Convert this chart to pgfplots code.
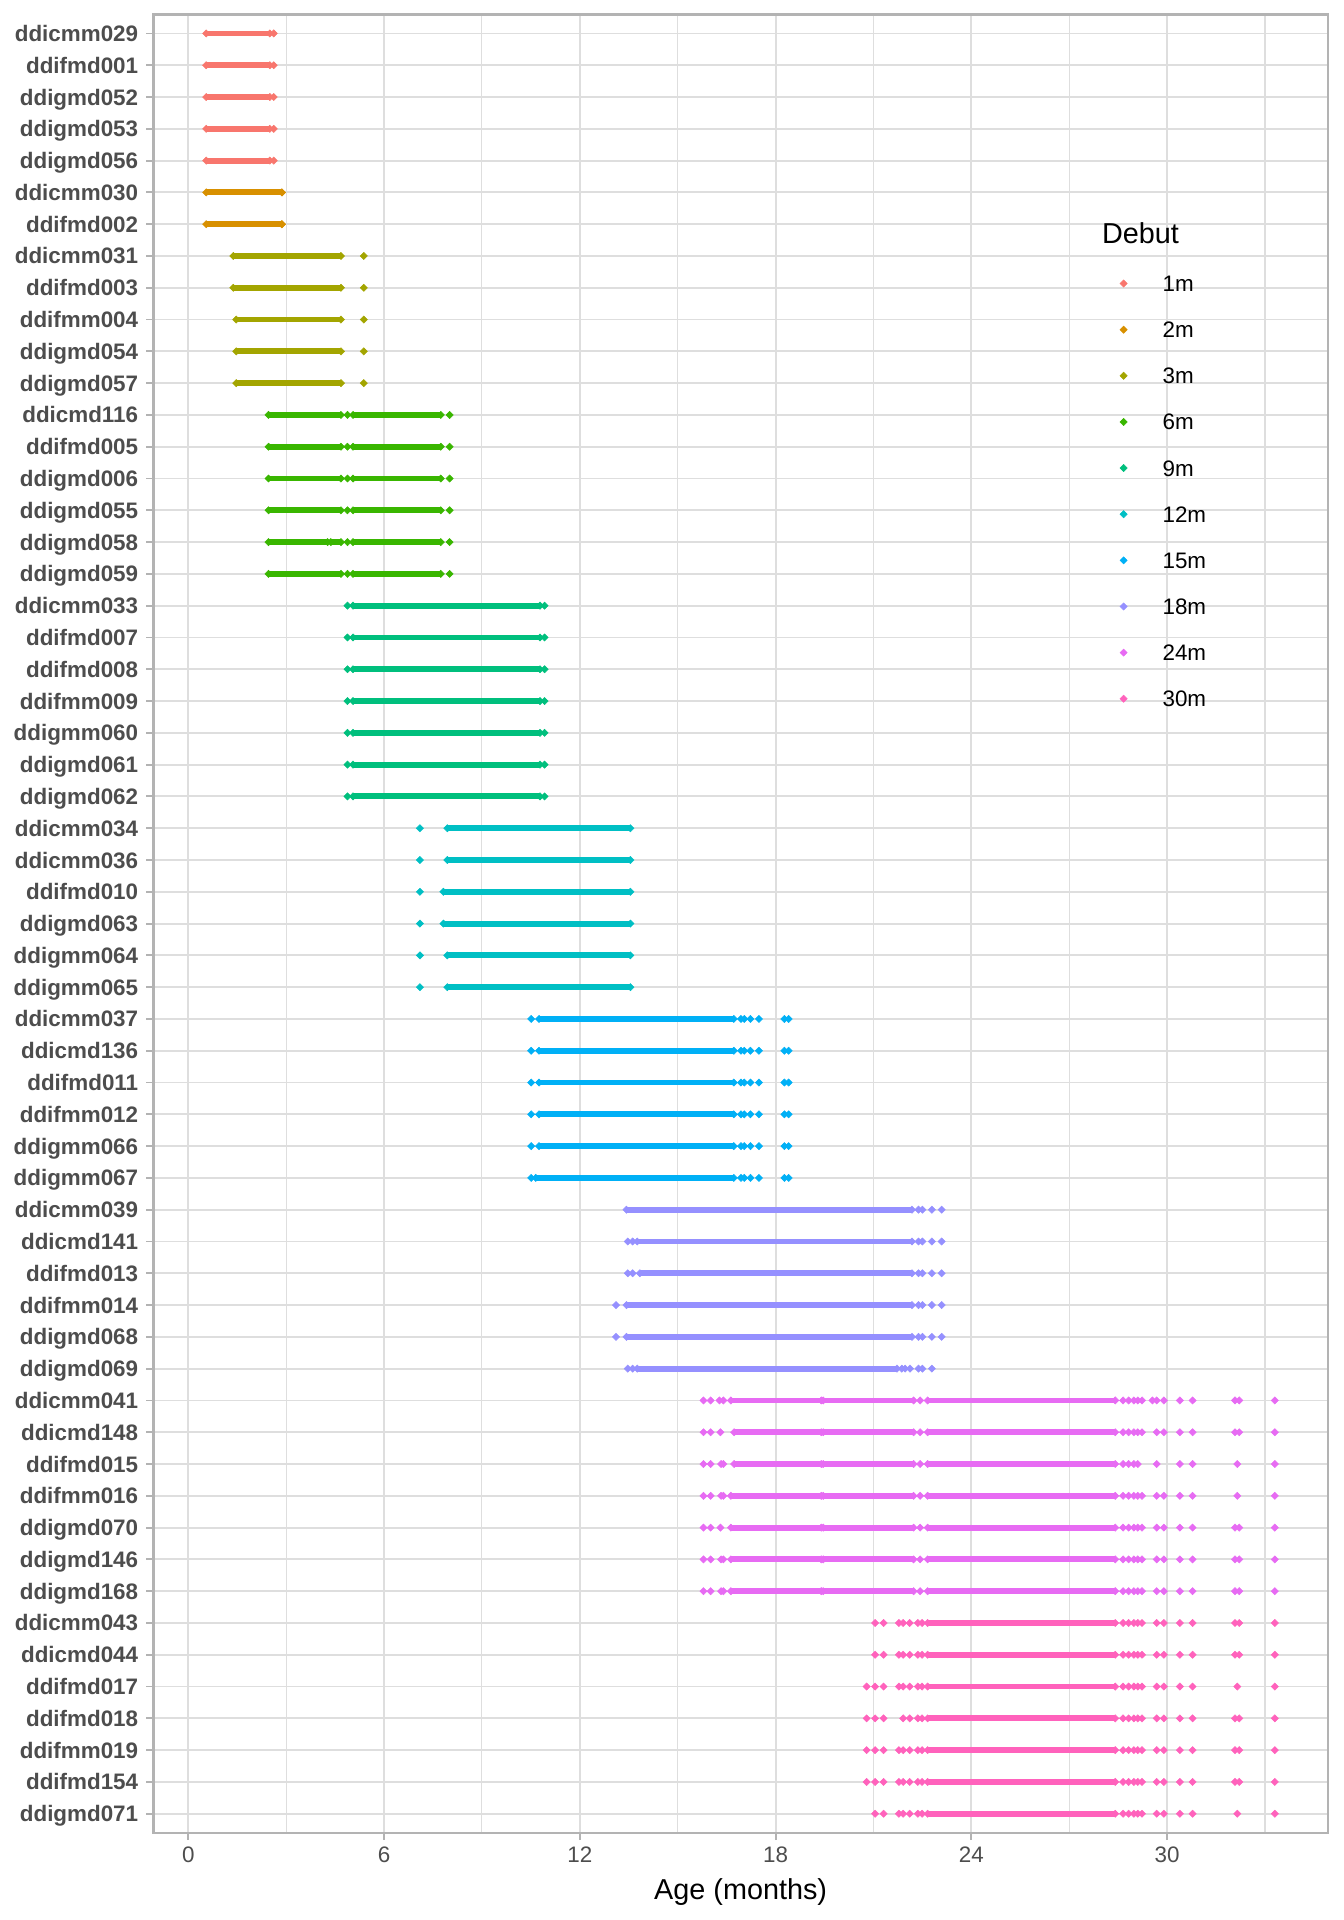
\documentclass[border=0pt]{standalone}
\usepackage{pgfplots}
\pgfplotsset{compat=1.18}
\usepackage{fontspec}
\setmainfont{Liberation Sans}
\definecolor{c1}{HTML}{F8766D}
\definecolor{c2}{HTML}{D89000}
\definecolor{c3}{HTML}{A3A500}
\definecolor{c4}{HTML}{39B600}
\definecolor{c5}{HTML}{00BF7D}
\definecolor{c6}{HTML}{00BFC4}
\definecolor{c7}{HTML}{00B0F6}
\definecolor{c8}{HTML}{9590FF}
\definecolor{c9}{HTML}{E76BF3}
\definecolor{c10}{HTML}{FF62BC}
\definecolor{gridc}{HTML}{DEDEDE}
\definecolor{borderc}{HTML}{B3B3B3}
\definecolor{txt}{HTML}{4D4D4D}
\pgfplotsset{
  pts/.style={only marks, mark=square*, mark size=0.95pt, mark options={rotate=45, line width=0.2pt}},
  runs/.style={forget plot, line width=2.2pt, mark=square*, mark size=0.95pt, mark options={rotate=45, line width=0.2pt}},
}
\begin{document}
\begin{tikzpicture}
\begin{axis}[name=ax, scale only axis, width=440.5pt, height=681.9pt,
  xmin=-1.07, xmax=34.93, ymin=-0.6, ymax=56.6,
  xtick={0,6,...,30}, minor xtick={3,9,...,33},
  ytick={0,...,56},
  yticklabels={ddigmd071,ddifmd154,ddifmm019,ddifmd018,ddifmd017,ddicmd044,ddicmm043,
    ddigmd168,ddigmd146,ddigmd070,ddifmm016,ddifmd015,ddicmd148,ddicmm041,
    ddigmd069,ddigmd068,ddifmm014,ddifmd013,ddicmd141,ddicmm039,
    ddigmm067,ddigmm066,ddifmm012,ddifmd011,ddicmd136,ddicmm037,
    ddigmm065,ddigmm064,ddigmd063,ddifmd010,ddicmm036,ddicmm034,
    ddigmd062,ddigmd061,ddigmm060,ddifmm009,ddifmd008,ddifmd007,ddicmm033,
    ddigmd059,ddigmd058,ddigmd055,ddigmd006,ddifmd005,ddicmd116,
    ddigmd057,ddigmd054,ddifmm004,ddifmd003,ddicmm031,
    ddifmd002,ddicmm030,
    ddigmd056,ddigmd053,ddigmd052,ddifmd001,ddicmm029},
  grid=both,
  major grid style={color=gridc, line width=0.7pt},
  minor grid style={color=gridc, line width=0.4pt},
  axis line style={color=borderc, line width=0.9pt},
  tick style={color=borderc, line width=0.7pt},
  tick align=outside, major tick length=2.7pt, minor tick length=0pt,
  xtick pos=bottom, ytick pos=left,
  /pgf/number format/assume math mode=true,
  xticklabel style={font=\fontsize{8.4}{10}\selectfont, color=txt, inner sep=0pt, anchor=north, yshift=-2.5pt},
  yticklabel style={font=\fontsize{8.4}{10}\selectfont\bfseries, color=txt, text height=6pt, text depth=0pt, inner sep=0pt, anchor=east, xshift=-2.8pt},
  xlabel={Age (months)},
  xlabel style={at={(axis description cs:0.5,0)}, anchor=center, yshift=-22.2pt, inner sep=0pt, font=\fontsize{10.8}{12}\selectfont},
  unbounded coords=jump,
  legend image code/.code={\path[draw=none,fill=none] (-4pt,-8.65pt) rectangle (14.6pt,8.65pt); \draw[#1] plot coordinates {(0pt,0pt)};},
  legend style={draw=none, fill=none, inner sep=0pt, row sep=0pt, column sep=0pt,
    nodes={inner sep=0pt, text height=6pt, text depth=0pt, font=\fontsize{8.4}{10}\selectfont},
    cells={anchor=west},
    at={(axis cs:28.65,48.15)}, anchor=north west, xshift=-4pt, yshift=8.65pt},
]
% ---- 1m
\addplot[pts, color=c1] coordinates {(2.62,56)(2.62,55)(2.62,54)(2.62,53)(2.62,52)};
\addlegendentry{1m}
\addplot[runs, color=c1] coordinates {(0.55,56)(2.50,56)(nan,nan)(0.55,55)(2.50,55)(nan,nan)(0.55,54)(2.50,54)(nan,nan)(0.55,53)(2.50,53)(nan,nan)(0.55,52)(2.50,52)};
% ---- 2m
\addplot[pts, color=c2] coordinates {(2.87,51)(2.87,50)};
\addlegendentry{2m}
\addplot[runs, color=c2] coordinates {(0.55,51)(2.87,51)(nan,nan)(0.55,50)(2.87,50)};
% ---- 3m
\addplot[pts, color=c3] coordinates {(5.38,49)(5.38,48)(5.38,47)(5.38,46)(5.38,45)};
\addlegendentry{3m}
\addplot[runs, color=c3] coordinates {(1.38,49)(4.68,49)(nan,nan)(1.38,48)(4.68,48)(nan,nan)(1.47,47)(4.68,47)(nan,nan)(1.47,46)(4.68,46)(nan,nan)(1.47,45)(4.68,45)};
% ---- 6m
\addplot[pts, color=c4] coordinates {(4.88,44)(8.01,44)(4.88,43)(8.01,43)(4.88,42)(8.01,42)(4.88,41)(8.01,41)(4.88,40)(8.01,40)(4.88,39)(8.01,39)};
\addlegendentry{6m}
\addplot[runs, color=c4] coordinates {
(2.46,44)(4.68,44)(nan,nan)(5.05,44)(7.74,44)(nan,nan)
(2.46,43)(4.68,43)(nan,nan)(5.05,43)(7.74,43)(nan,nan)
(2.46,42)(4.68,42)(nan,nan)(5.05,42)(7.74,42)(nan,nan)
(2.46,41)(4.68,41)(nan,nan)(5.05,41)(7.74,41)(nan,nan)
(2.46,40)(4.27,40)(nan,nan)(4.37,40)(4.68,40)(nan,nan)(5.05,40)(7.74,40)(nan,nan)
(2.46,39)(4.68,39)(nan,nan)(5.05,39)(7.74,39)};
% ---- 9m
\addplot[pts, color=c5] coordinates {(4.88,38)(10.92,38)(4.88,37)(10.92,37)(4.88,36)(10.92,36)(4.88,35)(10.92,35)(4.88,34)(10.92,34)(4.88,33)(10.92,33)(4.88,32)(10.92,32)};
\addlegendentry{9m}
\addplot[runs, color=c5] coordinates {
(5.05,38)(10.78,38)(nan,nan)(5.05,37)(10.78,37)(nan,nan)(5.05,36)(10.78,36)(nan,nan)(5.05,35)(10.78,35)(nan,nan)
(5.05,34)(10.78,34)(nan,nan)(5.05,33)(10.78,33)(nan,nan)(5.05,32)(10.78,32)};
% ---- 12m
\addplot[pts, color=c6] coordinates {(7.10,31)(7.10,30)(7.10,29)(7.10,28)(7.10,27)(7.10,26)};
\addlegendentry{12m}
\addplot[runs, color=c6] coordinates {
(7.94,31)(13.55,31)(nan,nan)(7.94,30)(13.55,30)(nan,nan)(7.82,29)(13.55,29)(nan,nan)
(7.82,28)(13.55,28)(nan,nan)(7.94,27)(13.55,27)(nan,nan)(7.94,26)(13.55,26)};
% ---- 15m
\addplot[pts, color=c7] coordinates {
(10.51,25)(16.94,25)(17.04,25)(17.23,25)(17.49,25)(18.27,25)(18.40,25)
(10.51,24)(16.94,24)(17.04,24)(17.23,24)(17.49,24)(18.27,24)(18.40,24)
(10.51,23)(16.94,23)(17.04,23)(17.23,23)(17.49,23)(18.27,23)(18.40,23)
(10.51,22)(16.94,22)(17.04,22)(17.23,22)(17.49,22)(18.27,22)(18.40,22)
(10.51,21)(16.94,21)(17.04,21)(17.23,21)(17.49,21)(18.27,21)(18.40,21)
(10.51,20)(16.94,20)(17.04,20)(17.23,20)(17.49,20)(18.27,20)(18.40,20)};
\addlegendentry{15m}
\addplot[runs, color=c7] coordinates {
(10.75,25)(16.72,25)(nan,nan)(10.75,24)(16.72,24)(nan,nan)(10.75,23)(16.72,23)(nan,nan)
(10.75,22)(16.72,22)(nan,nan)(10.75,21)(16.72,21)(nan,nan)(10.65,20)(16.72,20)};
% ---- 18m
\addplot[pts, color=c8] coordinates {
(22.38,19)(22.50,19)(22.79,19)(23.09,19)
(13.47,18)(13.62,18)(22.38,18)(22.50,18)(22.79,18)(23.09,18)
(13.47,17)(13.62,17)(22.38,17)(22.50,17)(22.79,17)(23.09,17)
(13.11,16)(22.38,16)(22.50,16)(22.79,16)(23.09,16)
(13.11,15)(22.38,15)(22.50,15)(22.79,15)(23.09,15)
(13.47,14)(13.62,14)(21.87,14)(21.97,14)(22.12,14)(22.38,14)(22.50,14)(22.79,14)};
\addlegendentry{18m}
\addplot[runs, color=c8] coordinates {
(13.43,19)(22.18,19)(nan,nan)(13.76,18)(22.18,18)(nan,nan)(13.84,17)(22.18,17)(nan,nan)
(13.43,16)(22.18,16)(nan,nan)(13.43,15)(22.18,15)(nan,nan)(13.76,14)(21.72,14)};
% ---- 24m
\addplot[pts, color=c9] coordinates {
(15.79,13)(16.01,13)(16.28,13)(16.40,13)(22.43,13)(28.65,13)(28.82,13)(28.98,13)(29.10,13)(29.23,13)(29.55,13)(29.68,13)(29.90,13)(30.39,13)(30.78,13)(32.08,13)(32.21,13)(33.30,13)
(15.79,12)(16.01,12)(16.31,12)(22.43,12)(28.65,12)(28.82,12)(28.98,12)(29.10,12)(29.23,12)(29.68,12)(29.90,12)(30.39,12)(30.78,12)(32.08,12)(32.21,12)(33.30,12)
(15.79,11)(16.01,11)(16.33,11)(16.40,11)(22.43,11)(28.65,11)(28.82,11)(28.98,11)(29.10,11)(29.68,11)(30.39,11)(30.78,11)(32.15,11)(33.30,11)
(15.79,10)(16.01,10)(16.33,10)(16.40,10)(22.43,10)(28.65,10)(28.82,10)(28.98,10)(29.10,10)(29.23,10)(29.68,10)(29.90,10)(30.39,10)(30.78,10)(32.15,10)(33.30,10)
(15.79,9)(16.01,9)(16.31,9)(22.43,9)(28.65,9)(28.82,9)(28.98,9)(29.10,9)(29.23,9)(29.68,9)(29.90,9)(30.39,9)(30.78,9)(32.08,9)(32.21,9)(33.30,9)
(15.79,8)(16.01,8)(16.33,8)(16.40,8)(22.43,8)(28.65,8)(28.82,8)(28.98,8)(29.10,8)(29.23,8)(29.68,8)(29.90,8)(30.39,8)(30.78,8)(32.08,8)(32.21,8)(33.30,8)
(15.79,7)(16.01,7)(16.33,7)(16.40,7)(22.43,7)(28.65,7)(28.82,7)(28.98,7)(29.10,7)(29.23,7)(29.68,7)(29.90,7)(30.39,7)(30.78,7)(32.08,7)(32.21,7)(33.30,7)};
\addlegendentry{24m}
\addplot[runs, color=c9] coordinates {
(16.63,13)(19.40,13)(nan,nan)(19.46,13)(22.23,13)(nan,nan)(22.66,13)(28.41,13)(nan,nan)
(16.73,12)(19.40,12)(nan,nan)(19.46,12)(22.23,12)(nan,nan)(22.66,12)(28.41,12)(nan,nan)
(16.73,11)(19.40,11)(nan,nan)(19.46,11)(22.23,11)(nan,nan)(22.66,11)(28.41,11)(nan,nan)
(16.63,10)(19.40,10)(nan,nan)(19.46,10)(22.23,10)(nan,nan)(22.66,10)(28.41,10)(nan,nan)
(16.63,9)(19.40,9)(nan,nan)(19.46,9)(22.23,9)(nan,nan)(22.66,9)(28.41,9)(nan,nan)
(16.63,8)(19.40,8)(nan,nan)(19.46,8)(22.23,8)(nan,nan)(22.66,8)(28.41,8)(nan,nan)
(16.63,7)(19.40,7)(nan,nan)(19.46,7)(22.23,7)(nan,nan)(22.66,7)(28.41,7)};
% ---- 30m
\addplot[pts, color=c10] coordinates {
(21.05,6)(21.31,6)(21.78,6)(21.91,6)(22.11,6)(22.36,6)(22.49,6)(28.65,6)(28.82,6)(28.98,6)(29.10,6)(29.23,6)(29.68,6)(29.90,6)(30.39,6)(30.78,6)(32.08,6)(32.21,6)(33.30,6)
(21.05,5)(21.31,5)(21.78,5)(21.91,5)(22.11,5)(22.36,5)(22.49,5)(28.65,5)(28.82,5)(28.98,5)(29.10,5)(29.23,5)(29.68,5)(29.90,5)(30.39,5)(30.78,5)(32.08,5)(32.21,5)(33.30,5)
(20.79,4)(21.05,4)(21.31,4)(21.78,4)(21.91,4)(22.11,4)(22.36,4)(22.49,4)(28.65,4)(28.82,4)(28.98,4)(29.10,4)(29.23,4)(29.68,4)(29.90,4)(30.39,4)(30.78,4)(32.15,4)(33.30,4)
(20.79,3)(21.05,3)(21.31,3)(21.91,3)(22.11,3)(22.36,3)(22.49,3)(28.65,3)(28.82,3)(28.98,3)(29.10,3)(29.23,3)(29.68,3)(29.90,3)(30.39,3)(30.78,3)(32.08,3)(32.21,3)(33.30,3)
(20.79,2)(21.05,2)(21.31,2)(21.78,2)(21.91,2)(22.11,2)(22.36,2)(22.49,2)(28.65,2)(28.82,2)(28.98,2)(29.10,2)(29.23,2)(29.68,2)(29.90,2)(30.39,2)(30.78,2)(32.08,2)(32.21,2)(33.30,2)
(20.79,1)(21.05,1)(21.31,1)(21.78,1)(21.91,1)(22.11,1)(22.36,1)(22.49,1)(28.65,1)(28.82,1)(28.98,1)(29.10,1)(29.23,1)(29.68,1)(29.90,1)(30.39,1)(30.78,1)(32.08,1)(32.21,1)(33.30,1)
(21.05,0)(21.31,0)(21.78,0)(21.91,0)(22.11,0)(22.36,0)(22.49,0)(28.65,0)(28.82,0)(28.98,0)(29.10,0)(29.23,0)(29.68,0)(29.90,0)(30.39,0)(30.78,0)(32.15,0)(33.30,0)};
\addlegendentry{30m}
\addplot[runs, color=c10] coordinates {
(22.66,6)(28.41,6)(nan,nan)(22.66,5)(28.41,5)(nan,nan)(22.66,4)(28.41,4)(nan,nan)(22.66,3)(28.41,3)(nan,nan)
(22.66,2)(28.41,2)(nan,nan)(22.66,1)(28.41,1)(nan,nan)(22.66,0)(28.41,0)};
\node[anchor=base west, inner sep=0pt, font=\fontsize{10.8}{12}\selectfont] at (axis cs:27.99,49.38) {Debut};
\end{axis}
\pgfresetboundingbox
\path[use as bounding box] ([xshift=-57.5pt,yshift=-32.7pt]ax.south west) rectangle ([xshift=6pt,yshift=5.4pt]ax.north east);
\end{tikzpicture}
\end{document}
